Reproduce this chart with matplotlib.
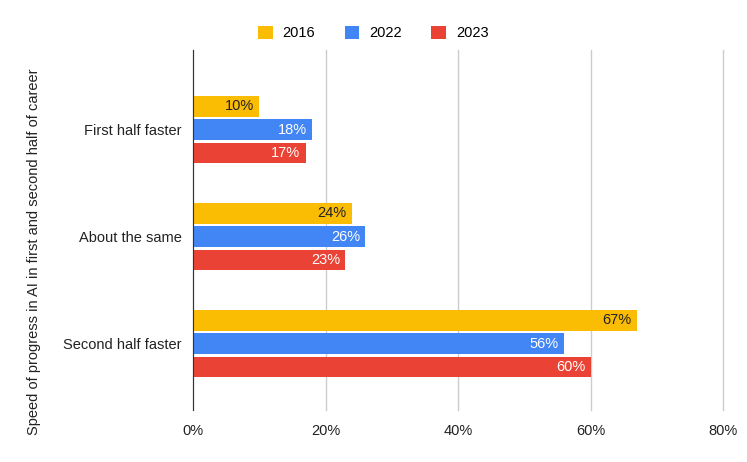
import matplotlib.pyplot as plt
import numpy as np

plt.rcParams["font.family"] = ["Liberation Sans", "DejaVu Sans"]

categories = ["First half faster", "About the same", "Second half faster"]
years = ["2016", "2022", "2023"]
vals_2016 = [10, 24, 67]
vals_2022 = [18, 26, 56]
vals_2023 = [17, 23, 60]
colors = ["#FBBC04", "#4285F4", "#EA4335"]
label_colors = ["#222222", "white", "white"]
x_ticks = [0, 20, 40, 60, 80]

fig = plt.figure(figsize=(7.47, 4.62), dpi=100)
ax = fig.add_axes([0.2584, 0.1126, 0.7096, 0.7794])

y = np.arange(len(categories))
h = 0.195
step = 0.219
series = [vals_2016, vals_2022, vals_2023]
for i, (vals, yr) in enumerate(zip(series, years)):
    pos = y + (i - 1) * step
    ax.barh(pos, vals, height=h, color=colors[i], label=yr, zorder=3)
    for p, v in zip(pos, vals):
        ax.text(v - 0.8, p, f"{v}%", ha="right", va="center",
                fontsize=10.5, color=label_colors[i], zorder=4)

ax.set_xlim(0, 80)
ax.set_ylim(2.62, -0.744)
ax.set_xticks(x_ticks)
ax.set_xticklabels([f"{t}%" for t in x_ticks], fontsize=10.5, color="#222222")
ax.set_yticks(y)
ax.set_yticklabels(categories, fontsize=10.5, color="#222222")
ax.tick_params(length=0, pad=8)
ax.tick_params(axis="x", pad=10)
ax.grid(axis="x", color="#cccccc", linewidth=1, zorder=0)
for gl in ax.get_xgridlines():
    gl.set_clip_on(False)
for s in ["top", "right", "bottom"]:
    ax.spines[s].set_visible(False)
ax.spines["left"].set_color("#333333")
ax.spines["left"].set_zorder(5)

ax.set_ylabel("Speed of progress in AI in first and second half of career",
              fontsize=10.5, color="#222222")
ax.yaxis.set_label_coords(-0.287, 0.44)

ax.legend(loc="lower center", bbox_to_anchor=(0.34, 0.99), ncol=3, frameon=False,
          fontsize=10.5, handlelength=1.0, handleheight=1.0, columnspacing=2.0,
          handletextpad=0.7)

fig.savefig("out.png", dpi=100)
